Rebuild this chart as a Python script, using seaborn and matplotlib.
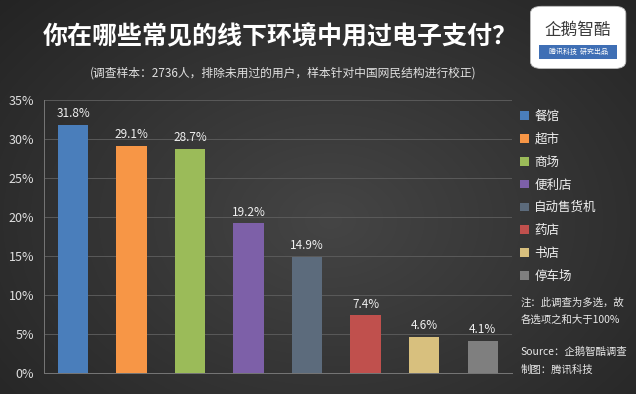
import numpy as np
import pandas as pd
import matplotlib
matplotlib.use("Agg")
import matplotlib.pyplot as plt
from matplotlib.patches import Patch, FancyBboxPatch, Rectangle
import seaborn as sns

# data
categories = ["餐馆", "超市", "商场", "便利店", "自动售货机", "药店", "书店", "停车场"]
shares = [31.8, 29.1, 28.7, 19.2, 14.9, 7.4, 4.6, 4.1]
colors = ["#4a7ebb", "#f79646", "#9bbb59", "#7d60a8", "#5c6b7c", "#c0504d", "#d8c07e", "#7f7f7f"]
yticks = [0, 5, 10, 15, 20, 25, 30, 35]

sns.set_theme(style="dark")
plt.rcParams["font.family"] = ["Noto Sans CJK SC", "DejaVu Sans"]
plt.rcParams["axes.unicode_minus"] = False

df = pd.DataFrame({"place": categories, "share": shares})

fig = plt.figure(figsize=(6.36, 3.94), dpi=100)

# dark radial background
bg = fig.add_axes([0, 0, 1, 1])
yy, xx = np.mgrid[0:394, 0:636]
r = np.sqrt(((xx - 330) / 420.0) ** 2 + ((yy - 220) / 300.0) ** 2)
shade = np.clip(0.27 - 0.12 * r, 0.13, 0.27)
bg.imshow(np.dstack([shade, shade, shade]), aspect="auto", extent=[0, 1, 0, 1])
bg.set_axis_off()

ax = fig.add_axes([0.069, 0.0533, 0.736, 0.693])
ax.patch.set_alpha(0)
sns.barplot(data=df, x="place", y="share", hue="place", palette=colors,
            width=0.52, legend=False, ax=ax, saturation=1, linewidth=0)

for i, v in enumerate(shares):
    ax.text(i, v + 0.6, f"{v}%", ha="center", va="bottom", color="#f0f0f0", fontsize=8.5)

ax.set_ylim(0, 35)
ax.set_xlim(-0.5, len(categories) - 0.5)
ax.set_yticks(yticks)
ax.set_yticklabels([f"{t}%" for t in yticks], color="#e0e0e0", fontsize=9)
ax.set_xticks([])
ax.set_xlabel("")
ax.set_ylabel("")
ax.grid(axis="y", color="#5a5a5a", linewidth=0.7)
ax.set_axisbelow(True)
ax.tick_params(axis="y", length=0, pad=7)
for side in ["top", "right"]:
    ax.spines[side].set_visible(False)
ax.spines["left"].set_color("#777777")
ax.spines["bottom"].set_color("#777777")
ax.spines["left"].set_linewidth(0.7)
ax.spines["bottom"].set_linewidth(0.7)

handles = [Patch(facecolor=c, edgecolor="none") for c in colors]
leg = fig.legend(handles, categories, loc="upper left", bbox_to_anchor=(0.80, 0.75),
                 frameon=False, fontsize=9, labelcolor="#f0f0f0",
                 handlelength=0.7, handleheight=0.7, handletextpad=0.45, labelspacing=0.79)

fig.text(0.44, 0.905, "你在哪些常见的线下环境中用过电子支付？", ha="center", va="center",
         color="white", fontsize=18, fontweight="black")
fig.text(0.445, 0.815, "(调查样本：2736人，排除未用过的用户，样本针对中国网民结构进行校正)",
         ha="center", va="center", color="#e0e0e0", fontsize=8.5)

# logo box
logo = FancyBboxPatch((0.838, 0.83), 0.142, 0.15, boxstyle="round,pad=0.004,rounding_size=0.018",
                      transform=fig.transFigure, facecolor="white", edgecolor="#bbbbbb", linewidth=0.6)
fig.patches.append(logo)
fig.text(0.909, 0.922, "企鹅智酷", ha="center", va="center", color="#3a3a3a", fontsize=12)
fig.patches.append(Rectangle((0.848, 0.85), 0.122, 0.035, transform=fig.transFigure,
                             facecolor="#3f6fb5", edgecolor="none"))
fig.text(0.909, 0.867, "腾讯科技  研究出品", ha="center", va="center", color="white",
         fontsize=5, style="italic")

note_kw = dict(ha="left", va="center", color="#e8e8e8", fontsize=7.5, style="italic")
fig.text(0.818, 0.233, "注：此调查为多选，故", **note_kw)
fig.text(0.818, 0.188, "各选项之和大于100%", **note_kw)
fig.text(0.818, 0.107, "Source：企鹅智酷调查", **note_kw)
fig.text(0.818, 0.061, "制图：腾讯科技", **note_kw)

fig.savefig("out.png", dpi=100)
